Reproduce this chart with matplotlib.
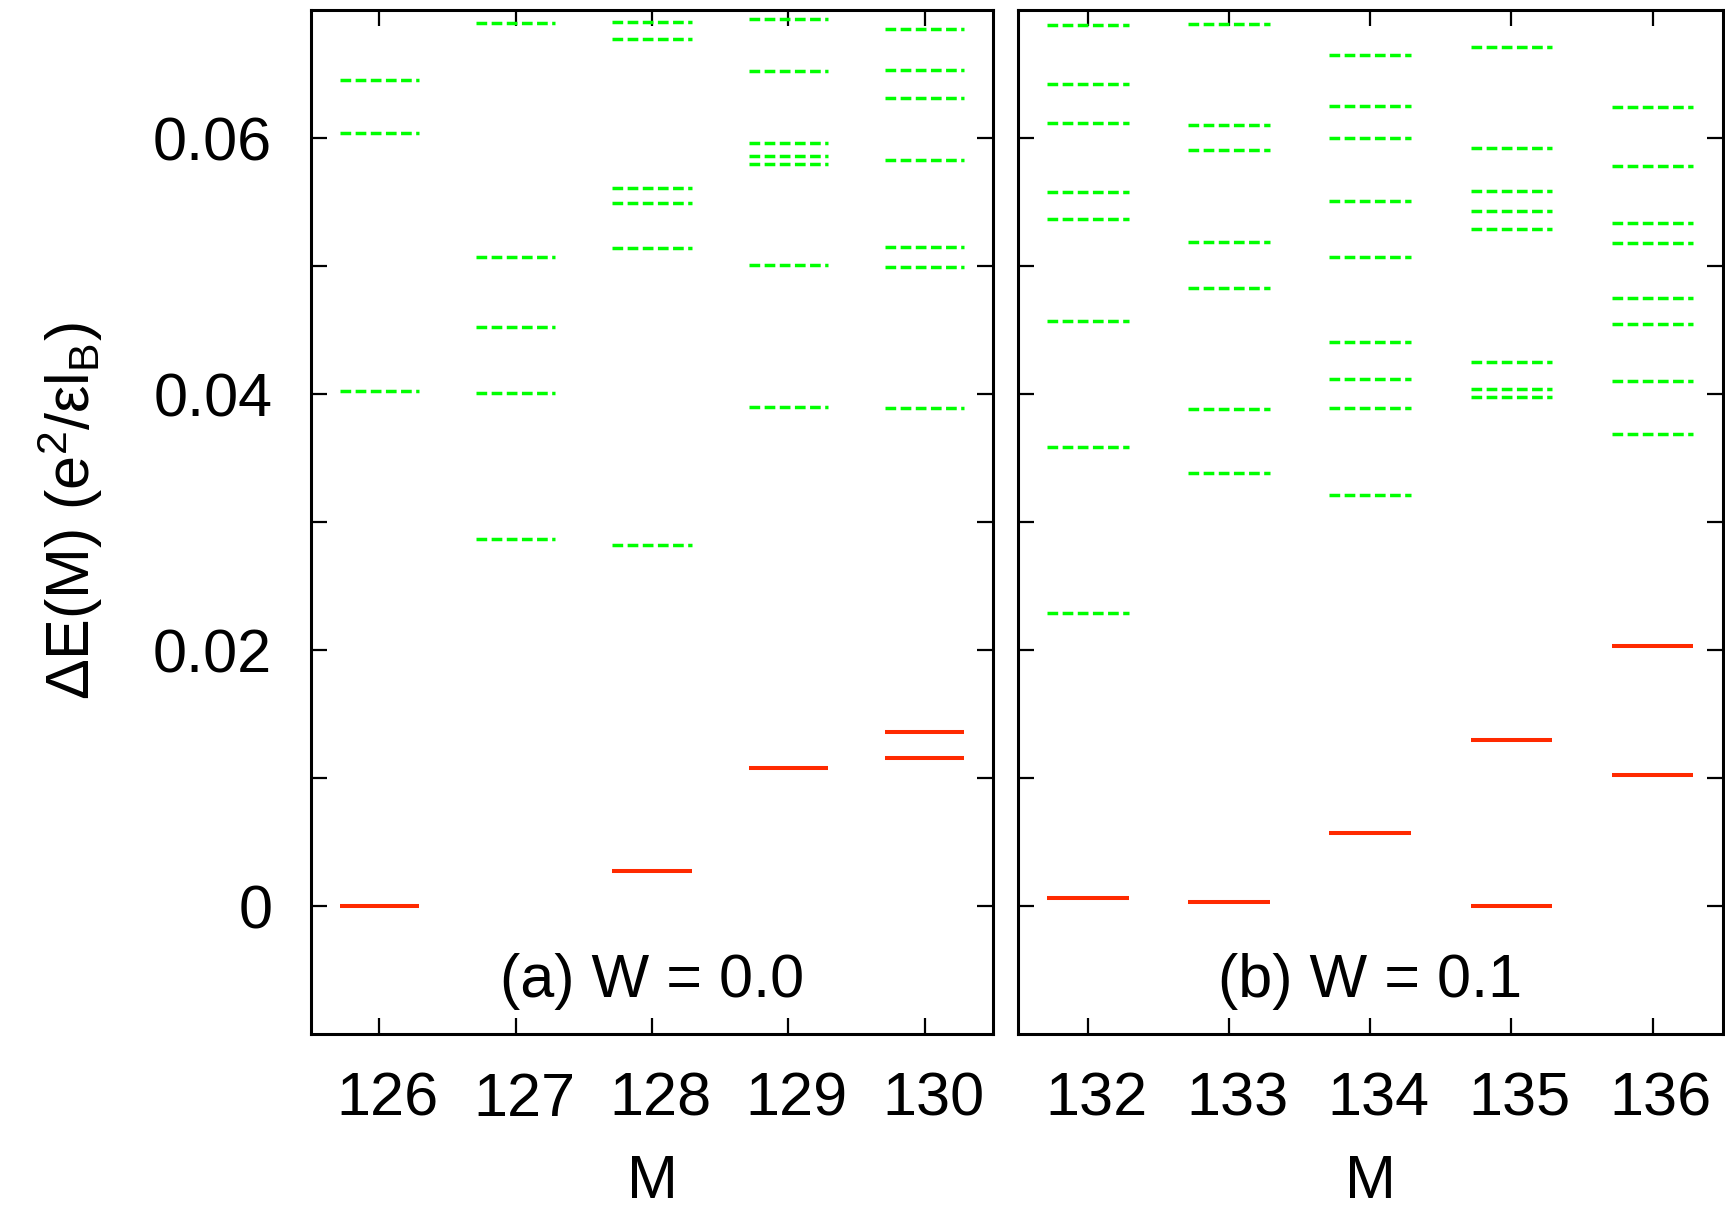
import matplotlib
matplotlib.use("Agg")
import matplotlib.pyplot as plt
from matplotlib.transforms import ScaledTranslation

plt.rcParams['font.family'] = ['Liberation Sans', 'DejaVu Sans']
plt.rcParams['mathtext.fontset'] = 'custom'
plt.rcParams['mathtext.rm'] = 'Liberation Sans'
plt.rcParams['mathtext.it'] = 'Liberation Sans'
plt.rcParams['lines.scale_dashes'] = False

# (a) W = 0.0
m_a = [126, 127, 128, 129, 130]
low_a = [[0.0], [], [0.0027], [0.0108], [0.0136, 0.0116]]
high_a = [
    [0.0645, 0.0604, 0.0402],
    [0.0690, 0.0507, 0.0452, 0.0401, 0.0287],
    [0.0691, 0.0677, 0.0561, 0.0549, 0.0514, 0.0282],
    [0.0693, 0.0652, 0.0596, 0.0586, 0.0580, 0.0501, 0.0390],
    [0.0685, 0.0653, 0.0631, 0.0583, 0.0515, 0.0499, 0.0389],
]

# (b) W = 0.1
m_b = [132, 133, 134, 135, 136]
low_b = [[0.0006], [0.0003], [0.0057], [0.0130, 0.0], [0.0203, 0.0102]]
high_b = [
    [0.0688, 0.0642, 0.0612, 0.0558, 0.0537, 0.0457, 0.0359, 0.0229],
    [0.0689, 0.0610, 0.0591, 0.0519, 0.0483, 0.0388, 0.0338],
    [0.0665, 0.0625, 0.0600, 0.0551, 0.0507, 0.0441, 0.0412, 0.0389, 0.0321],
    [0.0671, 0.0592, 0.0559, 0.0543, 0.0529, 0.0425, 0.0404, 0.0398],
    [0.0624, 0.0578, 0.0534, 0.0518, 0.0475, 0.0455, 0.0410, 0.0369],
]

titles = ['(a) W = 0.0', '(b) W = 0.1']
half = 0.29
fs = 44

fig = plt.figure(figsize=(17.25, 12.09), dpi=100)
ax1 = fig.add_axes([0.1803, 0.1447, 0.3954, 0.847])
ax2 = fig.add_axes([0.5899, 0.1447, 0.4090, 0.847])

# tick labels sit a little right of their ticks
shift = ScaledTranslation(6 / 72, 0, fig.dpi_scale_trans)

panels = [(ax1, m_a, low_a, high_a), (ax2, m_b, low_b, high_b)]
for i, (ax, ms, lows, highs) in enumerate(panels):
    for m, lo, hi in zip(ms, lows, highs):
        if hi:
            ax.hlines(hi, m - half, m + half, colors='#00ff00', lw=2.5,
                      linestyles=(0, (7.7, 3.2)))
        if lo:
            ax.hlines(lo, m - half, m + half, colors='#ff2a00', lw=2.9)
    ax.set_xlim(ms[0] - 0.5, ms[-1] + 0.5)
    ax.set_ylim(-0.01, 0.07)
    ax.set_xticks(ms)
    ax.set_xticklabels([str(m) for m in ms])
    ax.set_yticks([0, 0.02, 0.04, 0.06])
    ax.set_yticks([0.01, 0.03, 0.05], minor=True)
    ax.tick_params(which='both', direction='in', top=True, right=True,
                   length=11.5, width=1.6, labelsize=fs)
    ax.tick_params(axis='x', pad=27)
    ax.tick_params(axis='y', pad=28)
    for sp in ax.spines.values():
        sp.set_linewidth(2.2)
    ax.text(ms[2], -0.0059, titles[i], ha='center', va='center', fontsize=fs)
    ax.set_xlabel('M', fontsize=fs, labelpad=18)
    for lab in ax.get_xticklabels():
        lab.set_transform(lab.get_transform() + shift)

ax1.set_yticklabels(['0', '0.02', '0.04', '0.06'])
ax2.set_yticklabels([])
ax1.set_ylabel(r'ΔE(M) (e$^{2}$/εl$_{\mathrm{B}}$)', fontsize=fs)
ax1.yaxis.set_label_coords(-0.302, 0.511)

fig.savefig('out.png', dpi=100)
